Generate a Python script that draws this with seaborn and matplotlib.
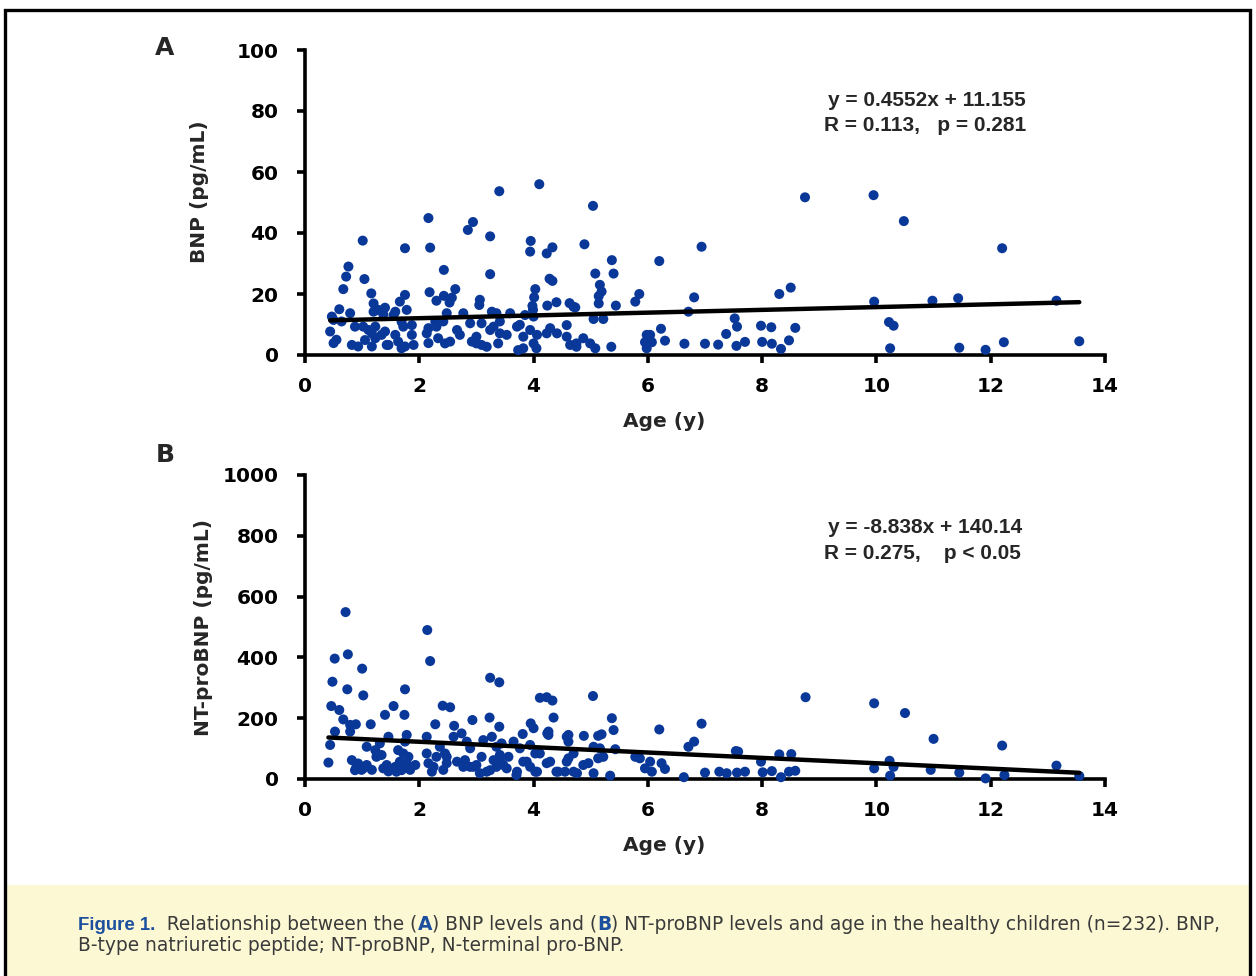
import numpy as np
import pandas as pd
import seaborn as sns
import matplotlib.pyplot as plt
from matplotlib.patches import Rectangle

# ------------------------------------------------------------
# DATA
# ------------------------------------------------------------
# Panel A: BNP vs age
bnp_age = [3.40, 4.10, 2.16, 2.94, 2.85, 3.24, 1.01, 1.75, 2.19, 3.95, 3.94, 4.23, 4.33,
           0.76, 0.72, 0.67, 1.04, 2.43, 3.24, 4.28, 4.33,
           1.16, 1.75, 1.66, 2.18, 2.30, 2.43, 2.63, 2.57, 2.53, 3.06, 3.05, 4.03, 4.01,
           3.98, 4.24, 4.40, 4.63, 4.70, 0.60, 0.47, 0.79,
           1.20, 1.40, 1.28, 1.20, 1.37, 1.58, 1.78, 0.50, 0.64,
           0.44, 0.55, 0.50, 0.875, 1.02, 1.23, 1.40, 1.69, 1.87, 1.58, 1.87,
           0.82, 0.93, 1.05, 1.17, 1.23, 1.43, 1.63, 1.75, 1.90, 1.69,
           2.16, 2.28, 2.16, 2.33,
           1.11, 1.17, 1.34, 1.46, 1.55, 1.72,
           2.13, 2.30, 2.48, 2.45, 2.66, 2.77, 2.71, 2.89, 2.92, 3.09, 3.00, 3.09,
           3.27, 3.35, 3.30, 3.41, 3.38, 3.53, 3.59, 3.71, 3.73, 3.82, 3.94, 4.00,
           4.00, 4.06, 4.23, 4.41, 4.58, 4.58, 4.64, 4.75,
           3.99, 3.85, 2.42, 3.41, 3.24, 3.76, 4.29, 2.54, 3.00, 3.18, 3.82, 4.05,
           5.04, 4.89, 5.37, 5.08, 5.40, 5.16, 5.19, 5.14, 5.14, 5.44, 5.78, 5.85,
           6.20, 6.94, 6.81, 6.71, 8.75, 8.30, 8.50, 7.52, 7.56, 7.98, 8.16, 8.58,
           7.37, 8.00, 8.17, 8.47, 8.33, 7.55, 7.70, 7.23, 7.00, 6.64, 6.30, 6.23,
           5.98, 6.04, 5.95, 6.07, 5.98, 5.36, 5.05, 5.22, 4.73, 4.87, 4.99, 5.08, 4.75,
           9.95, 10.48, 12.20, 9.96, 10.98, 11.43, 13.15, 10.22, 10.30, 10.24, 11.45,
           11.91, 12.23, 13.55]
bnp_val = [53.7, 56.0, 44.9, 43.6, 41.0, 38.9, 37.5, 35.0, 35.2, 37.4, 33.9, 33.3, 35.3,
           29.0, 25.7, 21.6, 24.9, 27.9, 26.5, 25.0, 24.3,
           20.2, 19.7, 17.5, 20.6, 17.8, 19.4, 21.6, 18.8, 17.2, 18.1, 16.4, 21.6, 18.9,
           16.1, 16.2, 17.3, 17.0, 15.8, 15.0, 12.6, 13.7,
           16.9, 15.5, 14.8, 14.2, 13.3, 14.2, 14.8, 11.5, 11.0,
           7.7, 5.0, 3.9, 9.3, 9.3, 9.3, 7.7, 10.9, 9.8, 6.6, 6.6,
           3.3, 2.8, 4.9, 2.8, 5.5, 3.3, 4.4, 2.8, 3.3, 2.2,
           8.8, 10.9, 3.9, 5.5,
           8.2, 7.1, 6.6, 3.3, 13.1, 9.3,
           7.1, 9.3, 13.7, 3.8, 8.2, 13.7, 6.6, 10.4, 4.4, 10.4, 6.0, 3.3,
           14.2, 13.7, 9.3, 7.1, 3.8, 6.6, 13.7, 9.3, 1.6, 6.0, 8.2, 12.6,
           3.8, 6.6, 7.1, 7.1, 9.8, 6.0, 3.3, 2.7,
           14.8, 13.1, 11.0, 11.0, 8.2, 9.9, 8.8, 4.4, 3.8, 2.7, 2.2, 2.2,
           48.9, 36.3, 31.1, 26.7, 26.7, 23.0, 20.8, 19.3, 16.9, 16.2, 17.5, 20.0,
           30.8, 35.5, 18.9, 14.2, 51.7, 20.0, 22.1, 12.0, 9.3, 9.6, 9.1, 8.9,
           6.9, 4.3, 3.7, 4.8, 2.0, 3.0, 4.3, 3.4, 3.7, 3.7, 4.7, 8.6,
           6.6, 6.6, 4.2, 4.2, 2.2, 2.7, 11.8, 11.8, 15.6, 5.5, 3.8, 2.2, 3.8,
           52.4, 43.9, 35.0, 17.5, 17.8, 18.6, 17.8, 10.8, 9.6, 2.2, 2.4,
           1.7, 4.2, 4.5]

# Panel B: NT-proBNP vs age
nt_age = [0.71, 2.14, 0.52, 0.75, 2.19, 0.48, 1.00, 0.74, 1.02, 1.75, 3.24, 3.40,
          0.46, 0.60, 0.67, 1.40, 1.55, 1.74, 2.41, 2.54, 2.93, 3.23, 4.11, 4.23,
          4.33, 4.35, 0.79, 0.89, 1.15, 2.28, 2.61, 3.40, 3.95, 4.00, 4.24, 3.81,
          0.525, 0.44, 0.41, 0.79,
          0.82, 0.90, 0.99, 1.08, 1.17, 1.08, 1.23, 1.34, 1.31, 1.46, 1.43, 1.46,
          1.63, 1.72, 1.81, 1.66, 1.78, 1.84, 1.60, 1.75, 1.78,
          2.13, 2.13, 2.16, 2.22, 2.30, 2.36, 2.45, 2.48, 2.42,
          2.60, 2.74, 2.83, 2.66, 2.77, 2.95, 3.06, 2.89, 3.09, 3.18,
          3.27, 3.35, 3.41, 3.30, 3.47, 3.56, 3.71, 3.82, 3.94, 4.03, 4.06, 4.23,
          4.26, 4.58, 4.61, 4.70, 4.43,
          1.25, 0.93, 0.875, 1.02, 1.37, 1.58, 1.93, 1.69, 2.25,
          3.12, 3.44, 3.65, 3.76, 4.26, 4.61, 4.61,
          2.48, 2.80, 2.89, 3.00, 3.24, 3.35, 3.41, 3.53, 3.70, 3.88, 3.94, 4.03,
          4.11, 4.29, 4.40, 4.55, 4.58, 4.70,
          5.04, 5.37, 5.40, 4.88, 5.13, 5.19, 6.20, 6.94, 6.71, 6.81, 8.76, 7.54,
          7.58, 8.30, 8.51, 7.98, 5.05, 5.16, 5.13, 5.22, 4.87, 4.96, 4.76, 5.05,
          5.34, 5.43, 5.78, 5.86, 6.04, 5.95, 6.07, 6.24, 6.30, 6.63, 7.00, 7.25,
          7.38, 7.56, 7.70, 8.01, 8.17, 8.33, 8.47, 8.58,
          9.96, 10.50, 11.00, 12.20, 13.15, 10.23, 10.30, 9.96, 10.24, 10.95,
          11.45, 11.91, 12.24, 13.55]
nt_val = [549, 490, 396, 410, 388, 320, 363, 295, 275, 295, 333, 318,
          240, 227, 196, 211, 240, 211, 241, 236, 194, 202, 267, 269,
          258, 202, 178, 180, 180, 180, 175, 172, 183, 167, 150, 148,
          156, 112, 54, 156,
          62, 40, 30, 46, 30, 106, 95, 79, 117, 139, 46, 25,
          95, 84, 73, 57, 52, 30, 24, 123, 145,
          139, 84, 52, 24, 73, 106, 84, 52, 30,
          139, 150, 123, 57, 40, 40, 19, 101, 73, 24,
          139, 106, 79, 62, 46, 73, 24, 57, 112, 84, 24, 52,
          145, 139, 68, 24, 24,
          73, 51, 29, 35, 35, 40, 46, 29, 40,
          128, 117, 123, 101, 156, 145, 123,
          73, 62, 40, 46, 29, 40, 62, 35, 13, 57, 40, 24,
          84, 57, 24, 24, 57, 84,
          273, 200, 161, 142, 142, 147, 163, 182, 106, 123, 269, 92,
          90, 81, 82, 57, 106, 101, 68, 73, 46, 52, 19, 19,
          11, 98, 73, 68, 57, 35, 24, 52, 33, 6, 21, 24,
          19, 21, 24, 22, 26, 6, 24, 27,
          249, 217, 132, 110, 44, 60, 40, 35, 11, 30,
          21, 2, 13, 10]

fit_a = (0.4552, 11.155)
fit_b = (-8.838, 140.14)

# ------------------------------------------------------------
# STYLE
# ------------------------------------------------------------
sns.set_style('white')
plt.rcParams['font.family'] = ['DejaVu Sans']
plt.rcParams['font.weight'] = 'bold'

W, H = 1256, 976
DOT = '#0a3899'
BLUE_TXT = '#1d4f9f'
LIB = ['Liberation Sans', 'DejaVu Sans']

fig = plt.figure(figsize=(W / 100, H / 100), dpi=100)


def px(x, y):
    return x / W, 1 - y / H


# caption band and frame
fig.patches.append(Rectangle((5 / W, 0), 1245 / W, 91 / H, transform=fig.transFigure,
                             facecolor='#fbf8d3', edgecolor='none', zorder=-5))
fig.patches.append(Rectangle((5 / W, -0.05), 1245 / W, (H - 10) / H + 0.05,
                             transform=fig.transFigure, fill=False,
                             edgecolor='black', lw=2.4, zorder=1))


def style_axis(ax, ymax, ystep):
    ax.set_xlim(0, 14)
    ax.set_ylim(0, ymax)
    ax.set_xticks(np.arange(0, 15, 2))
    ax.set_yticks(np.arange(0, ymax + 1, ystep))
    sns.despine(ax=ax)
    for s in ['left', 'bottom']:
        ax.spines[s].set_linewidth(2.6)
        ax.spines[s].set_color('black')
    ax.tick_params(axis='both', direction='out', length=6, width=2.6,
                   colors='black', labelsize=14.5)
    ax.tick_params(axis='x', pad=10, bottom=True)
    ax.tick_params(axis='y', pad=13, left=True)
    ax.set_facecolor('none')


def draw_panel(ax, ages, vals, fit, ylabel, ymax, ystep, eq, stat, ytxt):
    df = pd.DataFrame({'age': ages, 'val': vals})
    sns.scatterplot(data=df, x='age', y='val', ax=ax, color=DOT, s=52,
                    edgecolor='none', linewidth=0, clip_on=False, zorder=3)
    slope, icpt = fit
    xs = np.array([df['age'].min(), df['age'].max()])
    sns.lineplot(x=xs, y=slope * xs + icpt, ax=ax, color='black', lw=3.2, zorder=4)
    style_axis(ax, ymax, ystep)
    ax.set_xlabel('Age (y)', fontsize=14.5, fontweight='bold')
    ax.set_ylabel(ylabel, fontsize=14.5, fontweight='bold')
    ax.text(9.15, ytxt[0], eq, fontsize=15, va='center', ha='left', family=LIB)
    ax.text(9.08, ytxt[1], stat, fontsize=15, va='center', ha='left', family=LIB)


axA = fig.add_axes([305 / W, 1 - 355 / H, 800 / W, 305 / H])
draw_panel(axA, bnp_age, bnp_val, fit_a, 'BNP (pg/mL)', 100, 20,
           'y = 0.4552x + 11.155', 'R = 0.113,   p = 0.281', (83.3, 75.1))
axA.xaxis.set_label_coords(359 / 800, -57 / 305)
axA.yaxis.set_label_coords(-96 / 800, 163 / 305)

axB = fig.add_axes([305 / W, 1 - 779 / H, 800 / W, 304 / H])
draw_panel(axB, nt_age, nt_val, fit_b, 'NT-proBNP (pg/mL)', 1000, 200,
           'y = -8.838x + 140.14', 'R = 0.275,    p < 0.05', (826, 743))
axB.xaxis.set_label_coords(359 / 800, -57 / 304)
axB.yaxis.set_label_coords(-92 / 800, 152 / 304)

fig.text(*px(165, 48), 'A', fontsize=18, ha='center', va='center')
fig.text(*px(165, 455), 'B', fontsize=18, ha='center', va='center')

# caption
cap = fig.add_axes([0, 0, 1, 1])
cap.axis('off')
txt_kw = dict(fontsize=13.4, fontweight='normal', color='#3a3a3a',
              family=['DejaVu Sans'])
t = cap.text(*px(78, 930), 'Figure 1.', fontsize=13.4, fontweight='bold',
             color=BLUE_TXT,
             family=['DejaVu Sans Condensed', 'Liberation Sans Narrow', 'Liberation Sans'],
             va='baseline')
pieces = [('  Relationship between the (', False), ('A', True),
          (') BNP levels and (', False), ('B', True),
          (') NT-proBNP levels and age in the healthy children (n=232). BNP,', False)]
for s, hi in pieces:
    kw = dict(txt_kw)
    if hi:
        kw.update(color=BLUE_TXT, fontweight='bold')
    t = cap.annotate(s, xy=(1, 0), xycoords=t, va='bottom', ha='left', **kw)
cap.text(*px(78, 951), 'B-type natriuretic peptide; NT-proBNP, N-terminal pro-BNP.',
         va='baseline', **txt_kw)

fig.savefig('out.png', dpi=100)
